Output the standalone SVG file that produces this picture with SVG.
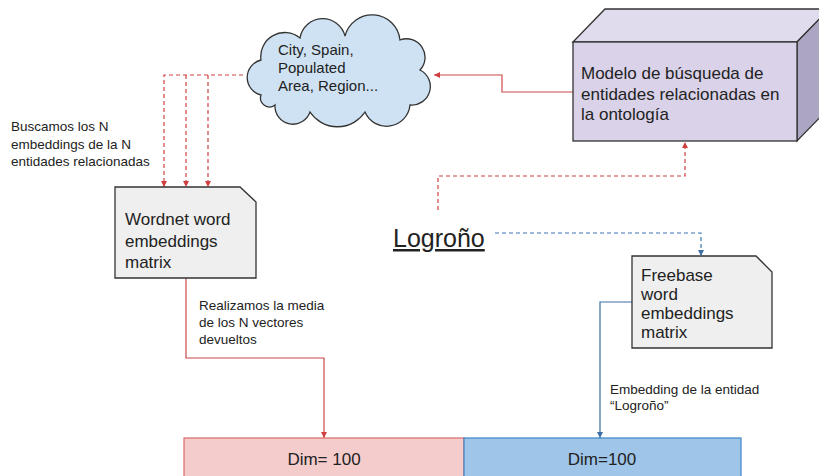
<svg xmlns="http://www.w3.org/2000/svg" width="819" height="476" viewBox="0 0 819 476">
<defs>
<style>
text{font-family:"Liberation Sans",Arial,sans-serif;fill:#222}
.lbl{font-size:13.5px}
.big{font-size:17px}
.cl{font-size:15px}
.rs{fill:none;stroke:#cc4b4b;stroke-width:1.2}
.rd{fill:none;stroke:#d04040;stroke-width:1.2;stroke-dasharray:4 3}
.bs{fill:none;stroke:#3d6fa6;stroke-width:1.2}
.bd{fill:none;stroke:#3d78b4;stroke-width:1.2;stroke-dasharray:4 3}
.doc{fill:#efefef;stroke:#333;stroke-width:1.3}
</style>
<marker id="ar" viewBox="0 0 10 10" refX="10" refY="5" markerWidth="6" markerHeight="6" markerUnits="userSpaceOnUse" orient="auto"><path d="M0,0L10,5L0,10z" fill="#d04040"/></marker>
<marker id="ab" viewBox="0 0 10 10" refX="10" refY="5" markerWidth="6" markerHeight="6" markerUnits="userSpaceOnUse" orient="auto"><path d="M0,0L10,5L0,10z" fill="#3d6fa6"/></marker>
</defs>
<rect width="819" height="476" fill="#fff"/>

<g id="connectors">
<path class="rs" d="M573,92H502V75H434" marker-end="url(#ar)"/>
<path class="rd" d="M243,75H164V187"  marker-end="url(#ar)"/>
<path class="rd" d="M186,75V187" marker-end="url(#ar)"/>
<path class="rd" d="M208,75V187" marker-end="url(#ar)"/>
<path class="rs" d="M186,278V358H324V438" marker-end="url(#ar)"/>
<path class="rd" d="M438,210V176H685V142" marker-end="url(#ar)"/>
<path class="bd" d="M495,233H701V256" marker-end="url(#ab)"/>
<path class="bs" d="M632,302H600V438" marker-end="url(#ab)"/>
</g>

<g id="cloud">
<path d="M261,95A18,18 0 0 1 261,60A24,24 0 0 1 300,38A23,23 0 0 1 345,36A28,28 0 0 1 400,40A18.5,18.5 0 0 1 420,70A18.5,18.5 0 0 1 410,105A23.5,23.5 0 0 1 365,112A33,33 0 0 1 310,112A18,18 0 0 1 275,105A9,9 0 0 1 261,95Z" fill="#cfe2f3" stroke="#333" stroke-width="1.3"/>
<text class="cl" x="278" y="55">City, Spain,</text>
<text class="cl" x="278" y="73">Populated</text>
<text class="cl" x="278" y="91">Area, Region...</text>
</g>

<g id="model">
<polygon points="573,42 605,9 829,9 797,42" fill="#e1dced" stroke="#333" stroke-width="1.3"/>
<polygon points="797,42 829,9 829,108 797,141" fill="#aca6c2" stroke="#333" stroke-width="1.3"/>
<rect x="573" y="42" width="224" height="99" fill="#d9d2e9" stroke="#333" stroke-width="1.3"/>
<text class="big" x="581" y="79">Modelo de búsqueda de</text>
<text class="big" x="581" y="99.5">entidades relacionadas en</text>
<text class="big" x="581" y="120">la ontología</text>
</g>

<g id="label-buscamos">
<text class="lbl" x="11" y="131">Buscamos los N</text>
<text class="lbl" x="11" y="148.5">embeddings de la N</text>
<text class="lbl" x="11" y="166">entidades relacionadas</text>
</g>

<g id="wordnet">
<path class="doc" d="M115,187H240L256,202V278H115Z"/>
<text class="big" x="125" y="225">Wordnet word</text>
<text class="big" x="125" y="246.5">embeddings</text>
<text class="big" x="125" y="268">matrix</text>
</g>

<g id="logrono">
<text x="393" y="247" font-size="25" text-decoration="underline">Logroño</text>
</g>

<g id="freebase">
<path class="doc" d="M632,256H756L772,272V348H632Z"/>
<text class="big" x="641" y="281">Freebase</text>
<text class="big" x="641" y="300">word</text>
<text class="big" x="641" y="319">embeddings</text>
<text class="big" x="641" y="338">matrix</text>
</g>

<g id="label-media">
<text class="lbl" x="199" y="310">Realizamos la media</text>
<text class="lbl" x="199" y="327">de los N vectores</text>
<text class="lbl" x="199" y="344">devueltos</text>
</g>

<g id="label-embedding">
<text class="lbl" x="610" y="394">Embedding de la entidad</text>
<text class="lbl" x="610" y="410">“Logroño”</text>
</g>

<g id="bar-wordnet">
<rect x="184" y="438" width="280" height="40" fill="#f4cccc" stroke="#d86a6a" stroke-width="1.2"/>
<text x="324" y="465" font-size="17" text-anchor="middle">Dim= 100</text>
</g>
<g id="bar-freebase">
<rect x="464" y="438" width="277" height="40" fill="#9fc5e8" stroke="#3d85c6" stroke-width="1.2"/>
<text x="602" y="465" font-size="17" text-anchor="middle">Dim=100</text>
</g>
</svg>
